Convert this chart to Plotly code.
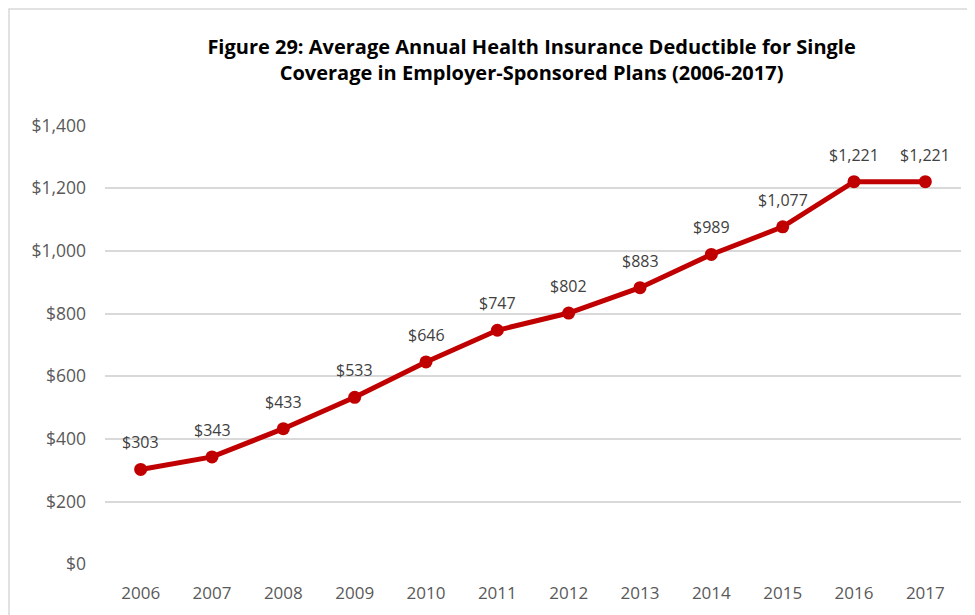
import plotly.graph_objects as go

years = ["2006", "2007", "2008", "2009", "2010", "2011",
         "2012", "2013", "2014", "2015", "2016", "2017"]
deductible = [303, 343, 433, 533, 646, 747, 802, 883, 989, 1077, 1221, 1221]
labels = [f"${v:,}" for v in deductible]

title = ("<b>Figure 29: Average Annual Health Insurance Deductible for Single<br>"
         "Coverage in Employer-Sponsored Plans (2006-2017)</b>")

fig = go.Figure()
fig.add_trace(go.Scatter(
    x=years, y=deductible,
    mode="lines+markers",
    line=dict(color="#C00000", width=5),
    marker=dict(color="#C00000", size=13),
    cliponaxis=False,
    showlegend=False,
))

# data labels sit a bit higher above the markers than plotly's default text
# (category index used for x, a "2006" string would be read as a position)
for i, (v, lab) in enumerate(zip(deductible, labels)):
    fig.add_annotation(x=i, y=v, text=lab, showarrow=False, yshift=27,
                       font=dict(size=16, color="#404040"))

fig.update_layout(
    width=975, height=615,
    paper_bgcolor="white", plot_bgcolor="white",
    font=dict(family="Open Sans", color="#595959"),
    margin=dict(l=97, r=22, t=117, b=58),
    title=dict(text=title, x=0.537, xanchor="center", y=0.925, yanchor="middle",
               font=dict(size=20, color="black", family="Open Sans")),
    xaxis=dict(type="category", range=[-0.5, 11.5], showgrid=False,
               showline=False, ticks="", ticklabelstandoff=16,
               tickfont=dict(size=17, color="#595959")),
    yaxis=dict(range=[-2, 1402], dtick=200, tickprefix="$", tickformat=",",
               showgrid=True, gridcolor="#D9D9D9", gridwidth=1.5,
               zeroline=False, showline=False, ticks="", ticklabelstandoff=18,
               tickfont=dict(size=17.5, color="#595959")),
    shapes=[dict(type="rect", xref="paper", yref="paper",
                 x0=(1 - 97) / 856, x1=1.2, y0=-0.3, y1=(557 - 1) / 440,
                 line=dict(color="#D9D9D9", width=1.5))],
)

fig.write_html("out.html")
